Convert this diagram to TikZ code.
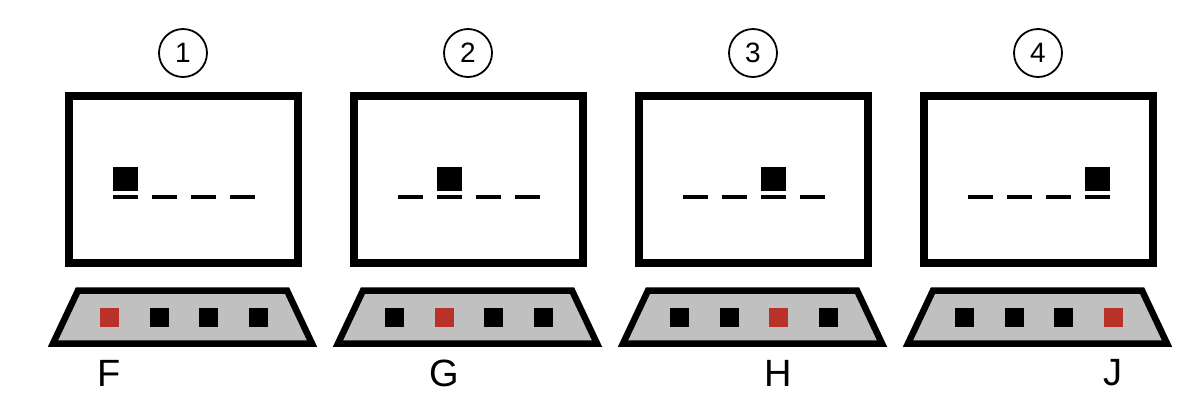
\documentclass[tikz,border=0pt]{standalone}
\usepackage{fontspec}
\setmainfont{Liberation Sans}
\definecolor{keyred}{HTML}{B8322A}
\definecolor{basegray}{HTML}{C0C0C0}
\begin{document}
\begin{tikzpicture}[x=1pt,y=-1pt,
  screen/.style={draw=black,line width=8pt,fill=white,inner sep=0pt,outer sep=0pt,minimum width=229pt,minimum height=167pt},
  basebox/.style={draw=black,line width=6.5pt,fill=basegray,line join=miter},
  key/.style={minimum size=19pt,inner sep=0pt,outer sep=0pt},
  num/.style={circle,draw,line width=1.8pt,minimum size=48pt,inner sep=0pt,font=\fontsize{28}{28}\selectfont},
  lab/.style={font=\fontsize{38}{38}\selectfont,inner sep=0pt},
  cursorbox/.style={fill=black,minimum width=25pt,minimum height=24pt,inner sep=0pt,outer sep=0pt},
  dashbar/.style={fill=black,minimum width=25pt,minimum height=3.6pt,inner sep=0pt,outer sep=0pt}]
\useasboundingbox (0,0) rectangle (1200,416);
\foreach \i/\l in {1/F,2/G,3/H,4/J}{
  \pgfmathsetmacro{\p}{(\i-1)*285}
  % number circle
  \node[num] (n\i) at (183+\p,53) {\i};
  % screen
  \node[screen] (scr\i) at (183.5+\p,179.5) {};
  % dashes and cursor
  \foreach \j in {1,...,4}{
    \node[dashbar] (d\i\j) at (125.5+\p+39*\j-39,197) {};
  }
  \node[cursorbox] (c\i) at (125.5+\p+39*\i-39,179) {};
  % base
  \draw[basebox] (78+\p,290.5) -- (287+\p,290.5) -- (312+\p,343.5) -- (53+\p,343.5) -- cycle;
  \foreach \j in {1,...,4}{
    \ifnum\j=\i \def\kc{keyred}\else\def\kc{black}\fi
    \node[key,fill=\kc] (k\i\j) at (109.5+\p+49.5*\j-49.5,317.5) {};
  }
  \node[lab] (l\i) at (109.5+\p+49.5*\i-49.5,373) {\l};
}
\end{tikzpicture}
\end{document}
